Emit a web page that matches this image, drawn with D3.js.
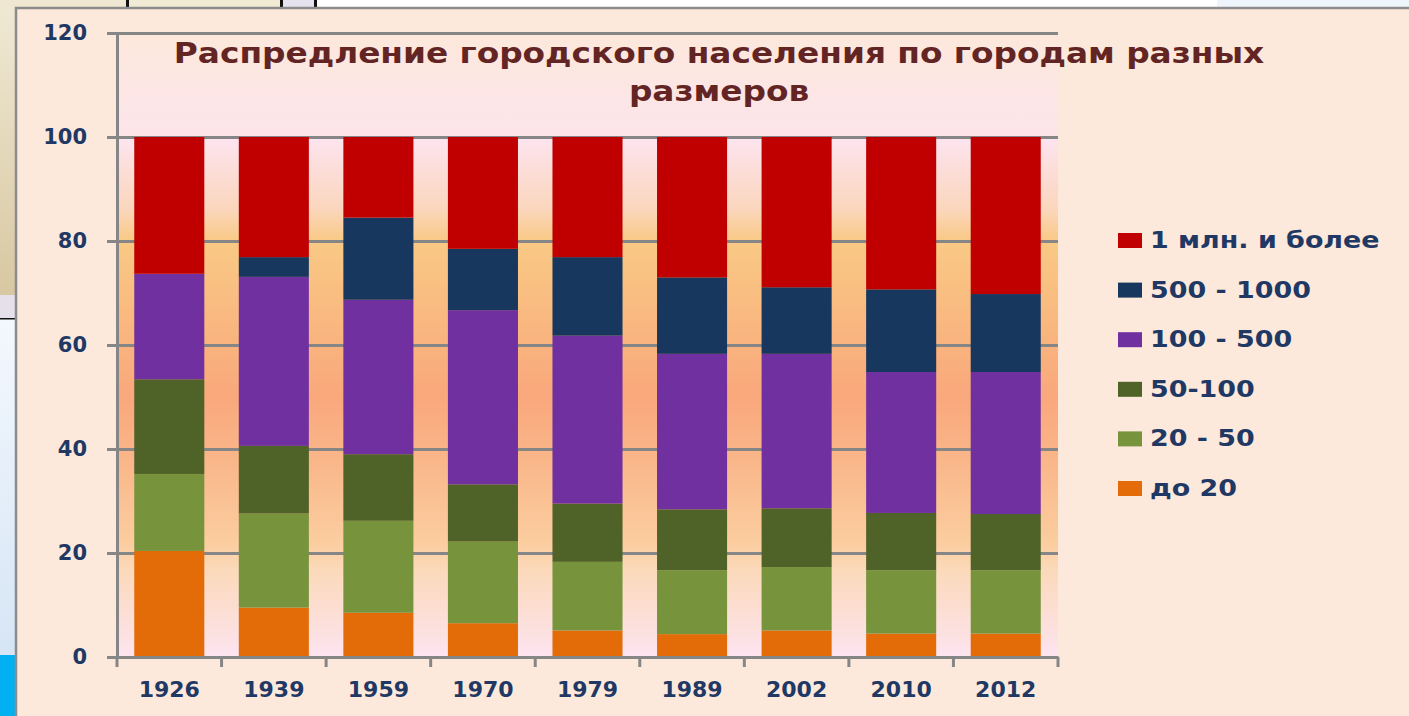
<!DOCTYPE html>
<html>
<head>
<meta charset="utf-8">
<script src="https://cdn.jsdelivr.net/npm/d3@7"></script>
<style>
  html, body { margin: 0; padding: 0; background: #fff; overflow: hidden; }
  svg { display: block; }
  text { font-family: "DejaVu Sans", Verdana, sans-serif; font-weight: bold; }
</style>
</head>
<body>
<svg id="chart"></svg>
<script>
// data (percent of urban population)
const years = ['1926', '1939', '1959', '1970', '1979', '1989', '2002', '2010', '2012']
const upTo20 = [20.4, 9.5, 8.5, 6.5, 5.1, 4.4, 5.1, 4.5, 4.5]
const from20to50 = [14.8, 18.1, 17.7, 15.7, 13.2, 12.3, 12.2, 12.2, 12.2]
const from50to100 = [18.2, 13.0, 12.8, 11.0, 11.2, 11.7, 11.3, 11.0, 10.8]
const from100to500 = [20.3, 32.5, 29.7, 33.5, 32.3, 29.9, 29.7, 27.1, 27.3]
const from500to1000 = [0, 3.8, 15.8, 11.8, 15.1, 14.7, 12.8, 15.9, 15.0]
const millionPlus = [26.3, 23.1, 15.5, 21.5, 23.1, 27.0, 28.9, 29.3, 30.2]

const seriesNames = ['до 20', '20 - 50', '50-100', '100 - 500', '500 - 1000', '1 млн. и более']
const seriesColors = ['#e36c09', '#77933c', '#4f6228', '#7030a0', '#17375e', '#c00000']
const yTicks = [0, 20, 40, 60, 80, 100, 120]
const titleLines = ['Распредление городского населения по городам разных', 'размеров']

const seriesValues = [upTo20, from20to50, from50to100, from100to500, from500to1000, millionPlus]
const rows = years.map((year, i) => {
    const row = {year: year}
    seriesNames.forEach((name, k) => { row[name] = seriesValues[k][i] })
    return row
})

// setting up container
    const width = 1409
    const height = 716
    const plot = {left: 117, right: 1058, top: 33, bottom: 657}
    const axisColor = '#868686'
    const labelColor = '#1f3864'

    const svg = d3.select('#chart')
        .attr('width', width)
        .attr('height', height)

    const defs = svg.append('defs')
    const bandGrad = defs.append('linearGradient').attr('id', 'plotBg')
        .attr('x1', 0).attr('y1', 0).attr('x2', 0).attr('y2', 1)
    ;[[0, '#fde4f0'], [0.14, '#fbd6bc'], [0.2, '#f9c985'], [0.4, '#f9b37e'], [0.5, '#f9a87c'],
      [0.62, '#f9b689'], [0.78, '#fbcd9f'], [0.83, '#fbd9b9'], [1, '#fde4f0']]
        .forEach(s => bandGrad.append('stop').attr('offset', s[0]).attr('stop-color', s[1]))
    const topGrad = defs.append('linearGradient').attr('id', 'plotTop')
        .attr('x1', 0).attr('y1', 0).attr('x2', 0).attr('y2', 1)
    topGrad.append('stop').attr('offset', 0).attr('stop-color', '#fde8dc')
    topGrad.append('stop').attr('offset', 1).attr('stop-color', '#fce4ea')
    const leftGrad = defs.append('linearGradient').attr('id', 'leftTop')
        .attr('x1', 0).attr('y1', 0).attr('x2', 0).attr('y2', 1)
    leftGrad.append('stop').attr('offset', 0).attr('stop-color', '#f0e9d5')
    leftGrad.append('stop').attr('offset', 1).attr('stop-color', '#d8c8a2')
    const blueGrad = defs.append('linearGradient').attr('id', 'leftBlue')
        .attr('x1', 0).attr('y1', 0).attr('x2', 0).attr('y2', 1)
    blueGrad.append('stop').attr('offset', 0).attr('stop-color', '#f3f8fe')
    blueGrad.append('stop').attr('offset', 1).attr('stop-color', '#d6e5f5')

// slide behind the chart
    const back = svg.append('g')
    back.append('rect').attr('width', width).attr('height', height).attr('fill', '#eef6fc')
    back.append('rect').attr('x', 0).attr('y', 0).attr('width', 15).attr('height', 295).attr('fill', 'url(#leftTop)')
    back.append('rect').attr('x', 0).attr('y', 295).attr('width', 15).attr('height', 23).attr('fill', '#e5e0eb')
    back.append('rect').attr('x', 0).attr('y', 318).attr('width', 15).attr('height', 1.5).attr('fill', '#111')
    back.append('rect').attr('x', 0).attr('y', 320).attr('width', 15).attr('height', 335).attr('fill', 'url(#leftBlue)')
    back.append('rect').attr('x', 0).attr('y', 655).attr('width', 15).attr('height', 61).attr('fill', '#00b0f0')
    back.append('rect').attr('x', 0).attr('y', 0).attr('width', 126).attr('height', 7).attr('fill', '#efe7d1')
    back.append('rect').attr('x', 129).attr('y', 0).attr('width', 151).attr('height', 7).attr('fill', '#f1ebd6')
    back.append('rect').attr('x', 283).attr('y', 0).attr('width', 31).attr('height', 7).attr('fill', '#e6e2ee')
    back.append('rect').attr('x', 317).attr('y', 0).attr('width', 900).attr('height', 7).attr('fill', '#ffffff')
    ;[126, 280, 314].forEach(x => back.append('rect').attr('x', x).attr('y', 0).attr('width', 3).attr('height', 7).attr('fill', '#111'))

    // chart panel
    svg.append('rect')
        .attr('x', 16).attr('y', 8)
        .attr('width', width).attr('height', height)
        .attr('fill', '#fde9db')
        .attr('stroke', '#8c8c8c')
        .attr('stroke-width', 2.5)

// set up scales
    const xScale = d3.scaleBand()
        .domain(years)
        .range([plot.left, plot.right])
        .paddingInner(0.33)
        .paddingOuter(0.165)
    const yScale = d3.scaleLinear()
        .domain([0, 120])
        .range([plot.bottom, plot.top])

    // plot area fill
    svg.append('rect')
        .attr('x', plot.left).attr('y', yScale(120))
        .attr('width', plot.right - plot.left).attr('height', yScale(100) - yScale(120))
        .attr('fill', 'url(#plotTop)')
    svg.append('rect')
        .attr('x', plot.left).attr('y', yScale(100))
        .attr('width', plot.right - plot.left).attr('height', yScale(0) - yScale(100))
        .attr('fill', 'url(#plotBg)')

// draw grid lines
    const yAxisGrid = d3.axisRight(yScale)
        .tickValues(yTicks)
        .tickSize(plot.right - plot.left)
        .tickFormat('')
    svg.append('g')
        .attr('class', 'grid-lines')
        .attr('transform', `translate(${plot.left}, 0)`)
        .call(yAxisGrid)
        .call(g => g.select('.domain').remove())
        .selectAll('line')
            .attr('stroke', axisColor)
            .attr('stroke-width', 3)

// stacked bars
    const stacked = d3.stack().keys(seriesNames)(rows)
    svg.append('g')
        .selectAll('g')
        .data(stacked)
        .enter()
        .append('g')
            .attr('fill', (d, i) => seriesColors[i])
        .selectAll('rect')
        .data(d => d)
        .enter()
        .append('rect')
            .attr('x', d => xScale(d.data.year))
            .attr('y', d => yScale(d[1]))
            .attr('width', xScale.bandwidth())
            .attr('height', d => yScale(d[0]) - yScale(d[1]))

// axes
    const yAxis = d3.axisLeft(yScale)
        .tickValues(yTicks)
        .tickSize(10)
        .tickPadding(20)
    svg.append('g')
        .attr('transform', `translate(${plot.left}, 0)`)
        .call(yAxis)
        .call(g => g.select('.domain').attr('stroke', axisColor).attr('stroke-width', 3))
        .call(g => g.selectAll('.tick line').attr('stroke', axisColor).attr('stroke-width', 3))
        .selectAll('text')
            .attr('fill', labelColor)
            .style('font-size', '21px')

    const xAxis = d3.axisBottom(xScale)
        .tickSize(0)
        .tickPadding(24)
    svg.append('g')
        .attr('transform', `translate(0, ${plot.bottom})`)
        .call(xAxis)
        .call(g => g.select('.domain').attr('stroke', axisColor).attr('stroke-width', 3))
        .selectAll('text')
            .attr('fill', labelColor)
            .style('font-size', '22px')

    // tick marks sit between the categories
    svg.append('g')
        .selectAll('line')
        .data(d3.range(years.length + 1))
        .enter()
        .append('line')
            .attr('x1', i => plot.left + i * xScale.step())
            .attr('x2', i => plot.left + i * xScale.step())
            .attr('y1', plot.bottom)
            .attr('y2', plot.bottom + 10)
            .attr('stroke', axisColor)
            .attr('stroke-width', 3)

// title (slide text is stretched sideways)
    svg.append('g')
        .selectAll('text')
        .data(titleLines)
        .enter()
        .append('text')
            .attr('transform', (d, i) => `translate(719, ${63 + i * 38}) scale(1.17, 1)`)
            .attr('text-anchor', 'middle')
            .attr('fill', '#632523')
            .style('font-size', '28px')
            .text(d => d)

// legend
    const legendOrder = seriesNames.map((name, i) => ({name: name, color: seriesColors[i]})).reverse()
    const legend = svg.append('g')
        .selectAll('g')
        .data(legendOrder)
        .enter()
        .append('g')
            .attr('transform', (d, i) => `translate(1118, ${248 + i * 49.6})`)
    legend.append('rect')
        .attr('x', 0).attr('y', -15)
        .attr('width', 24).attr('height', 15)
        .attr('fill', d => d.color)
    legend.append('text')
        .attr('transform', 'translate(32, 0) scale(1.17, 1)')
        .attr('fill', labelColor)
        .style('font-size', '23px')
        .text(d => d.name)
</script>
</body>
</html>
